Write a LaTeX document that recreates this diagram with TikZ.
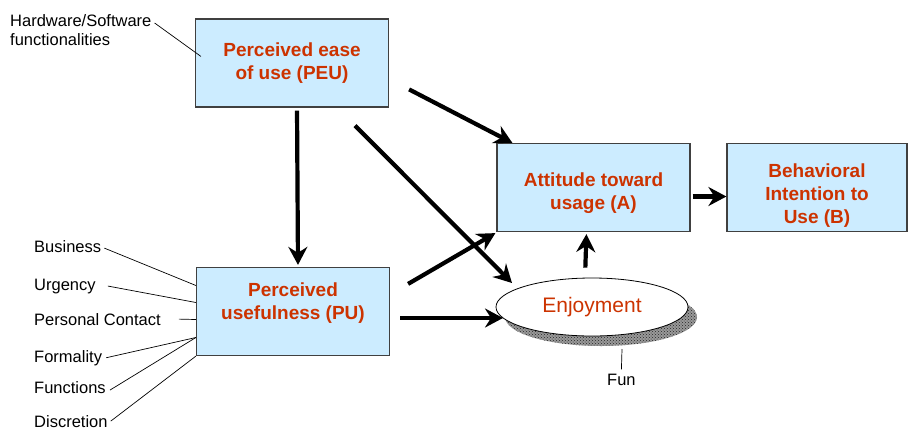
\documentclass[tikz,border=0pt]{standalone}
\usepackage{fontspec}
\setmainfont{Liberation Sans}
\usetikzlibrary{shapes.geometric,arrows.meta,patterns}
\definecolor{boxblue}{HTML}{CCECFF}
\definecolor{tamred}{HTML}{CC3300}

\begin{document}
\begin{tikzpicture}[x=1pt,y=-1pt,
        box/.style={draw=black!75,line width=1.2pt,fill=boxblue,text=tamred,
            font=\bfseries\fontsize{19}{23}\selectfont,align=center,
            minimum width=193pt,minimum height=88pt,inner sep=0pt},
        factor/.style={font=\fontsize{16.5}{19}\selectfont,inner sep=0pt,anchor=base west},
        flow/.style={line width=4.2pt,-{Stealth[length=18pt,width=19pt,inset=6pt]}},
        link/.style={line width=0.7pt}]
    \useasboundingbox (0,0) rectangle (912,429);

    % the four construct boxes
    \node[box] (peu) at (292,63) {Perceived ease\\of use (PEU)};
    \node[box,text depth=20pt] (pu) at (293,311.5) {Perceived\\usefulness (PU)};
    \node[box,text height=49pt] (att) at (593.5,187.5) {Attitude toward\\usage (A)};
    \node[box,minimum width=180pt,text height=76pt] (bi) at (817,187.5) {Behavioral\\Intention to\\Use (B)};

    % enjoyment with its shadow
    \coordinate (enjc) at (592,307);
    \fill[black!40,postaction={pattern=crosshatch dots,pattern color=black!85}]
        ([shift={(9,10)}]enjc) ellipse (96 and 29);
    \node[ellipse,draw,line width=0.8pt,fill=white,minimum width=192pt,minimum height=58pt,
        text=tamred,font=\fontsize{21}{25}\selectfont] (enj) at (enjc) {Enjoyment};

    % external factors
    \node[factor,align=left,anchor=north west] (hw) at (10,14) {Hardware/Software\\functionalities};
    \foreach \name/\txt/\y in {bus/Business/252,urg/Urgency/290,pers/Personal Contact/325,
            form/Formality/362,func/Functions/393,disc/Discretion/427}
        \node[factor] (\name) at (34,\y) {\txt};
    \node[factor] (fun) at (607,385) {Fun};
    \coordinate (funtop) at (622,349);

    \draw[link] ([shift={(3,9)}]hw.north east) -- ([shift={(6,38)}]peu.north west);
    \draw[link] ([shift={(3,2)}]bus.east) -- ([yshift=26pt]pu.west);
    \draw[link] ([xshift=12pt]urg.east) -- ([yshift=9pt]pu.west);
    \draw[link] ([xshift=18pt]pers.east) -- ([yshift=-8pt]pu.west);
    \draw[link] ([xshift=4pt]form.east) -- ([yshift=-26pt]pu.west);
    \draw[link] ([shift={(4,3)}]func.east) -- ([yshift=-26pt]pu.west);
    \draw[link] ([xshift=3pt]disc.east) -- (pu.south west);
    \draw[link] (funtop) -- ([yshift=4pt]fun.north);

    % causal paths
    \draw[flow,shorten <=3pt,shorten >=2pt] ([xshift=5pt]peu.south) -- ([xshift=5pt]pu.north);
    \draw[flow] ([shift={(20,71)}]peu.north east) -- ([shift={(16,0)}]att.north west);
    \draw[flow] ([shift={(63,18)}]peu.south) -- ([shift={(-80,-24)}]enj.center);
    \draw[flow] ([shift={(18,17)}]pu.north east) -- ([shift={(-1,1)}]att.south west);
    \draw[flow] ([shift={(10,6.5)}]pu.east) -- ([shift={(-89,11)}]enj.center);
    \draw[flow,shorten <=10pt,shorten >=2pt] ([xshift=-7pt]enj.north) -- ([xshift=-7pt]att.south);
    \draw[flow,shorten <=2pt] ([yshift=-9pt]att.east) -- ([yshift=-9pt]bi.west);
\end{tikzpicture}
\end{document}
